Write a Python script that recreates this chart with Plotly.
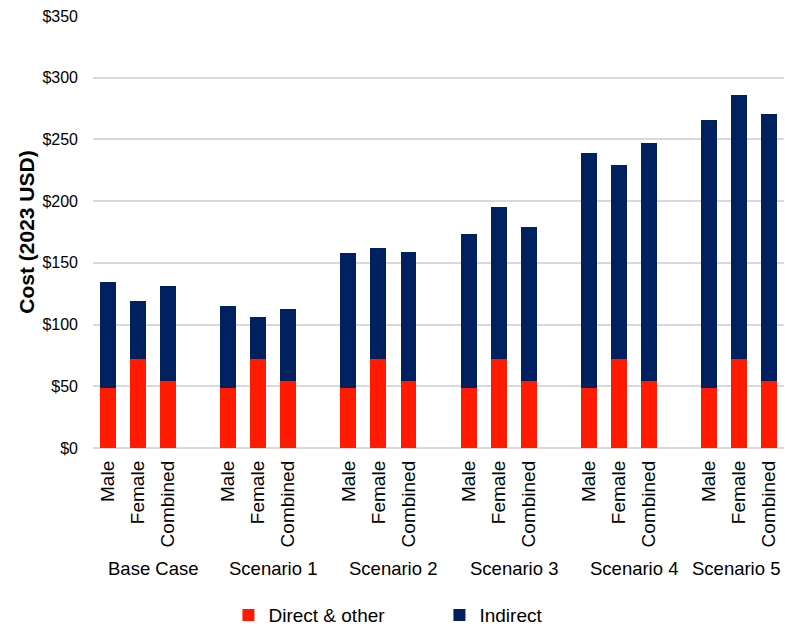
import plotly.graph_objects as go

groups = ["Base Case", "Scenario 1", "Scenario 2", "Scenario 3", "Scenario 4", "Scenario 5"]
sexes = ["Male", "Female", "Combined"]

direct = [48.5, 72.0, 54.2,
          48.5, 72.0, 54.2,
          48.5, 72.0, 54.2,
          48.5, 72.0, 54.2,
          48.5, 72.0, 54.2,
          48.5, 72.0, 54.2]
indirect = [86.1, 47.5, 76.8,
            66.7, 34.0, 58.2,
            109.5, 90.1, 104.7,
            125.2, 123.3, 124.8,
            190.5, 157.0, 192.6,
            217.1, 213.9, 216.5]

y_ticks = [0, 50, 100, 150, 200, 250, 300, 350]
y_ticktext = ["$" + str(v) for v in y_ticks]

# positions: 3 bars per group, one empty slot between groups
xpos = [g * 4 + s for g in range(len(groups)) for s in range(len(sexes))]
xlabels = [s for g in groups for s in sexes]

FONT = "Liberation Sans, Arial, sans-serif"
RED = "#FF1A00"
NAVY = "#002060"

fig = go.Figure()
fig.add_trace(go.Bar(x=xpos, y=direct, name="Direct & other", marker_color=RED,
                     marker_line_width=0, width=0.53))
fig.add_trace(go.Bar(x=xpos, y=indirect, name="Indirect", marker_color=NAVY,
                     marker_line_width=0, width=0.53))

annotations = []
for g, name in enumerate(groups):
    if g < len(groups) - 1:
        annotations.append(dict(x=g * 4 + 1.5, y=-0.28, xref="x", yref="paper",
                                text=name, showarrow=False, xanchor="center", yanchor="middle",
                                font=dict(family=FONT, size=18.5, color="#000000")))
    else:
        annotations.append(dict(x=0.997, y=-0.28, xref="paper", yref="paper",
                                text=name, showarrow=False, xanchor="right", yanchor="middle",
                                font=dict(family=FONT, size=18.5, color="#000000")))

fig.update_layout(
    barmode="stack",
    width=785, height=628,
    margin=dict(l=93, r=1, t=16, b=179.5, autoexpand=False),
    paper_bgcolor="white", plot_bgcolor="white",
    font=dict(family=FONT, color="#000000"),
    xaxis=dict(range=[-0.5, 22.5], tickmode="array", tickvals=xpos, ticktext=xlabels,
               tickangle=-90, tickfont=dict(size=19, family=FONT, color="#000000"),
               showgrid=False, zeroline=False, showline=False, ticks="",
               ticklabelstandoff=8, automargin=False),
    yaxis=dict(range=[0, 350], tickmode="array", tickvals=y_ticks, ticktext=y_ticktext,
               tickfont=dict(size=16, family=FONT, color="#000000"),
               showgrid=True, gridcolor="#D9D9D9", gridwidth=1.5,
               zeroline=True, zerolinecolor="#D9D9D9", zerolinewidth=1.5,
               showline=False, ticks="", ticklabelstandoff=14, automargin=False,
               title=dict(text="<b>Cost (2023 USD)</b>", font=dict(size=21, family=FONT, color="#000000"),
                          standoff=2)),
    legend=dict(orientation="h", x=0.196, xanchor="left", y=-0.387, yanchor="middle",
                font=dict(size=19, family=FONT, color="#000000"),
                entrywidth=166, entrywidthmode="pixels", traceorder="normal",
                bgcolor="rgba(0,0,0,0)"),
    annotations=annotations,
    bargap=0,
)

fig.write_html("out.html")
